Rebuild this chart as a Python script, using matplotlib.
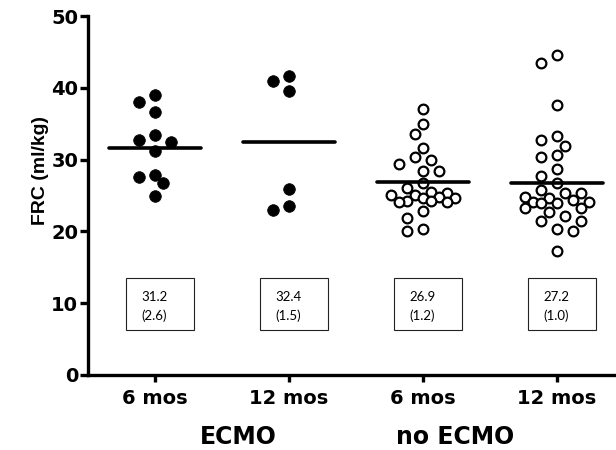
import numpy as np
import matplotlib
matplotlib.use("Agg")
import matplotlib.pyplot as plt
from matplotlib.patches import Rectangle

plt.rcParams['font.family'] = ['DejaVu Sans']

categories = ["6 mos", "12 mos", "6 mos", "12 mos"]
groups = ["ECMO", "no ECMO"]

ecmo_6 = [39.0, 38.0, 36.6, 33.4, 32.7, 32.5, 31.2, 27.9, 27.6, 26.7, 24.9]
ecmo_12 = [41.7, 41.0, 39.5, 25.9, 23.6, 23.0]
noecmo_6 = [37.1, 34.9, 33.5, 31.6, 30.4, 30.0, 29.4, 28.4, 28.4, 26.7, 26.0,
            25.5, 25.3, 25.1, 25.1, 24.8, 24.6, 24.6, 24.3, 24.3, 24.1, 24.1,
            22.9, 21.8, 20.3, 20.0]
noecmo_12 = [44.6, 43.5, 37.6, 33.3, 32.7, 31.9, 30.7, 30.3, 28.7, 27.7, 26.8,
             25.8, 25.3, 25.3, 24.8, 24.6, 24.4, 24.1, 24.1, 23.9, 23.9, 23.2,
             23.2, 22.7, 22.1, 21.4, 21.4, 20.4, 20.0, 17.3]
series = [ecmo_6, ecmo_12, noecmo_6, noecmo_12]
filled = [True, True, False, False]

line_levels = [31.6, 32.5, 26.9, 26.8]
box_means = ["31.2", "32.4", "26.9", "27.2"]
box_sems = ["(2.6)", "(1.5)", "(1.2)", "(1.0)"]

W, H = 616, 450
fig = plt.figure(figsize=(W / 100, H / 100), dpi=100)
ax = fig.add_axes([88 / W, 75 / H, (W - 88) / W, 359 / H])
ax.set_xlim(-0.5, 3.44)
ax.set_ylim(0, 50)


def swarm(vals, xc, diam, step, nmax):
    """Bounded grid beeswarm in pixel space; overlaps allowed when crowded."""
    tr = ax.transData
    xpx0, _ = tr.transform((xc, 0))
    placed = []
    res = [None] * len(vals)
    order = sorted(range(len(vals)), key=lambda i: -vals[i])
    cand = [0]
    for n in range(1, nmax + 1):
        cand += [-n, n]
    for i in order:
        ypx = tr.transform((xc, vals[i]))[1]
        best, bestd = None, -1
        chosen = None
        for c in cand:
            cx = c * step
            d = min([np.hypot(cx - px, ypx - py) for px, py in placed] + [1e9])
            if d >= diam:
                chosen = cx
                break
            if d > bestd:
                best, bestd = cx, d
        if chosen is None:
            chosen = best
        placed.append((chosen, ypx))
        res[i] = tr.inverted().transform((xpx0 + chosen, ypx))[0]
    return res


for k, vals in enumerate(series):
    xs = swarm(vals, k, 11.5, 8.0, 4)
    if filled[k]:
        ax.plot(xs, vals, 'o', ls='none', ms=8.4, mfc='black', mec='black', mew=0.5, zorder=3)
    else:
        ax.plot(xs, vals, 'o', ls='none', ms=7.0, mfc='white', mec='black', mew=1.6, zorder=3)
    ax.plot([k - 0.34, k + 0.34], [line_levels[k]] * 2, color='black', lw=2.6,
            solid_capstyle='round', zorder=4)
    bx = k + 0.035 - 0.255
    ax.add_patch(Rectangle((bx, 6.3), 0.51, 7.2, fill=False, ec='#222222', lw=0.8, zorder=2))
    ax.text(bx + 0.115, 10.9, box_means[k], fontsize=9.5, family=['Lato', 'DejaVu Sans'],
            va='center', ha='left')
    ax.text(bx + 0.115, 8.2, box_sems[k], fontsize=9.5, family=['Lato', 'DejaVu Sans'],
            va='center', ha='left')

for s in ['top', 'right']:
    ax.spines[s].set_visible(False)
for s in ['left', 'bottom']:
    ax.spines[s].set_linewidth(2.4)
ax.set_yticks(np.arange(0, 51, 10))
ax.set_xticks(range(4))
ax.set_xticklabels(categories)
ax.tick_params(axis='both', width=2.4, labelsize=14)
ax.tick_params(axis='x', length=5, pad=5)
ax.tick_params(axis='y', length=6, pad=1)
for lab in ax.get_xticklabels() + ax.get_yticklabels():
    lab.set_fontweight('bold')
ax.set_ylabel("FRC (ml/kg)", fontsize=14, fontweight='bold',
              family=['Liberation Sans', 'DejaVu Sans'])
ax.yaxis.set_label_coords(-0.074, 0.571)

fig.text(238 / W, 1 - 437 / H, groups[0], fontsize=17, fontweight='bold', ha='center', va='center')
fig.text(455 / W, 1 - 437 / H, groups[1], fontsize=17, fontweight='bold', ha='center', va='center')

fig.savefig("out.png", dpi=100)
